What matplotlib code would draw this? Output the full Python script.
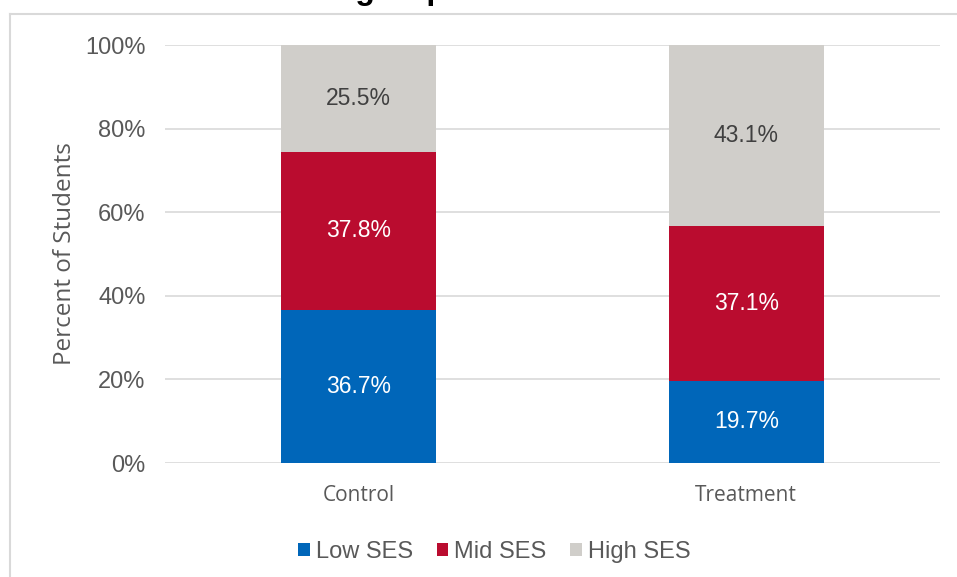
import matplotlib
matplotlib.use("Agg")
import matplotlib.pyplot as plt
from matplotlib.lines import Line2D
import numpy as np

categories = ["Control", "Treatment"]
series_names = ["Low SES", "Mid SES", "High SES"]
low_ses = [36.7, 19.7]
mid_ses = [37.8, 37.1]
high_ses = [25.5, 43.1]
y_ticks = [0, 20, 40, 60, 80, 100]
y_tick_labels = ["0%", "20%", "40%", "60%", "80%", "100%"]

colors = ["#0066B9", "#BA0C2F", "#D0CECA"]
label_colors = ["white", "white", "#404040"]

plt.rcParams['font.family'] = ['Liberation Sans', 'DejaVu Sans']

fig = plt.figure(figsize=(9.57, 5.77), dpi=100)
ax = fig.add_axes([165/957, 114/577, 775/957, 418/577])

x = np.arange(len(categories))
bottom = np.zeros(len(categories))
for vals, name, c, lc in zip([low_ses, mid_ses, high_ses], series_names, colors, label_colors):
    bars = ax.bar(x, vals, width=0.4, bottom=bottom, color=c, label=name, zorder=3)
    for xi, v, b in zip(x, vals, bottom):
        ax.text(xi, b + v/2, f"{v:.1f}%", ha='center', va='center', color=lc,
                fontsize=16.5, zorder=4)
    bottom = bottom + np.array(vals)

ax.set_xlim(-0.5, len(categories) - 0.5)
ax.set_ylim(0, 100)
ax.set_yticks(y_ticks)
ax.set_yticklabels(y_tick_labels, fontsize=17, color="#595959")
ax.set_xticks(x)
ax.set_xticklabels(categories, fontsize=15, color="#595959", family=['Open Sans', 'DejaVu Sans'])
ax.tick_params(axis='both', length=0)
ax.tick_params(axis='y', pad=14)
ax.tick_params(axis='x', pad=16)
ax.grid(axis='y', color="#D9D9D9", linewidth=1.2, zorder=0)
for s in ax.spines.values():
    s.set_visible(False)
ax.set_ylabel("Percent of Students", fontsize=17.5, color="#595959",
              family=['Open Sans', 'DejaVu Sans'], labelpad=6)

leg = ax.legend(loc='upper center', bbox_to_anchor=(0.425, -0.135), ncol=3, frameon=False,
                fontsize=17, handlelength=0.5, handleheight=0.5, handletextpad=0.25,
                columnspacing=1.0)
for t in leg.get_texts():
    t.set_color("#595959")

# chart frame (partially visible)
fig.add_artist(Line2D([10/957, 10/957], [0, 1 - 14/577], color="#D9D9D9", linewidth=1.5,
                      transform=fig.transFigure))
fig.add_artist(Line2D([10/957, 1], [1 - 14/577, 1 - 14/577], color="#D9D9D9", linewidth=1.5,
                      transform=fig.transFigure))

# title clipped at top of image
fig.text(446/957, 1 + 1/577, "SES Distribution in each group", ha='right', va='baseline',
         fontsize=23, fontweight='bold', color='black')

fig.savefig("out.png", dpi=100)
